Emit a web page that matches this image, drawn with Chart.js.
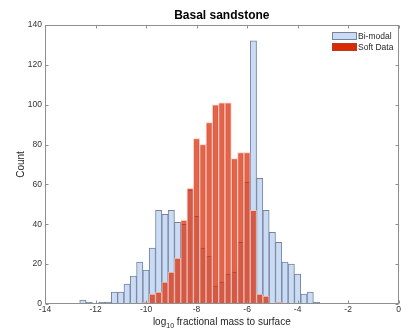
<!DOCTYPE html>
<html>
<head>
<meta charset="utf-8">
<script src="https://cdn.jsdelivr.net/npm/chart.js@4"></script>
<style>
    html, body { margin: 0; padding: 0; background: #fff; }
    #wrap { width: 402px; height: 332px; }
</style>
</head>
<body>
<div id="wrap"><canvas id="hist"></canvas></div>
<script>
const titleText = 'Basal sandstone';
const yLabel = 'Count';
const xLabelParts = ['log', '10', ' fractional mass to surface'];

const xTicks = [-14, -12, -10, -8, -6, -4, -2, 0];
const yTicks = [0, 20, 40, 60, 80, 100, 120, 140];

// bin centres (width 0.25) and counts
const bimodalBins = [
    -12.5, -12.25, -12, -11.75, -11.5, -11.25, -11, -10.75, -10.5, -10.25,
    -10, -9.75, -9.5, -9.25, -9, -8.75, -8.5, -8.25, -8, -7.75,
    -7.5, -7.25, -7, -6.75, -6.5, -6.25, -6, -5.75, -5.5, -5.25,
    -5, -4.75, -4.5, -4.25, -4, -3.75, -3.5, -3.25
];
const bimodalCounts = [
    2, 1, 0, 1, 1, 6, 6, 10, 14, 21,
    17, 28, 47, 45, 47, 41, 40, 57, 44, 28,
    24, 9, 11, 15, 16, 31, 61, 132, 63, 47,
    36, 31, 21, 20, 15, 5, 6, 1
];

const softBins = [
    -10, -9.75, -9.5, -9.25, -9, -8.75, -8.5, -8.25, -8, -7.75,
    -7.5, -7.25, -7, -6.75, -6.5, -6.25, -6, -5.75, -5.5, -5.25,
    -5, -4.75
];
const softCounts = [
    1, 5, 6, 11, 16, 23, 42, 58, 83, 80,
    91, 100, 101, 101, 73, 76, 76, 47, 5, 4,
    0, 1
];

const FONT = "'Liberation Sans', Arial, sans-serif";
const frameColor = '#8f8f8f';
const blueFill = '#c9dbf5';
const blueEdge = '#76839a';
const redFill = 'rgba(214, 36, 0, 0.71)';
const redEdge = 'rgba(246, 196, 184, 0.85)';
const redSwatch = '#d92a06';

// box, inward ticks, title, axis labels and legend in MATLAB style
const matlabFrame = {
    id: 'matlabFrame',
    afterDraw(chart) {
        const { ctx, chartArea: a, scales: { x, y } } = chart;
        const L = Math.round(a.left) + 0.5, R = Math.round(a.right) - 0.5;
        const T = Math.round(a.top) + 0.5, B = Math.round(a.bottom) - 0.5;
        ctx.save();
        ctx.strokeStyle = frameColor;
        ctx.lineWidth = 1;
        ctx.strokeRect(L, T, R - L, B - T);
        ctx.beginPath();
        xTicks.forEach(v => {
            const px = Math.round(x.getPixelForValue(v)) + 0.5;
            ctx.moveTo(px, B); ctx.lineTo(px, B - 3);
            ctx.moveTo(px, T); ctx.lineTo(px, T + 3);
        });
        yTicks.forEach(v => {
            const py = Math.round(y.getPixelForValue(v)) + 0.5;
            ctx.moveTo(L, py); ctx.lineTo(L + 3, py);
            ctx.moveTo(R, py); ctx.lineTo(R - 3, py);
        });
        ctx.stroke();

        const cx = (a.left + a.right) / 2;
        ctx.fillStyle = '#000';
        ctx.textAlign = 'center';
        ctx.textBaseline = 'alphabetic';
        ctx.font = 'bold 12px ' + FONT;
        ctx.fillText(titleText, cx, 18.5);

        // x label with subscript
        ctx.fillStyle = '#262626';
        ctx.font = '10px ' + FONT;
        const w0 = ctx.measureText(xLabelParts[0]).width;
        const w2 = ctx.measureText(xLabelParts[2]).width;
        ctx.font = '7px ' + FONT;
        const w1 = ctx.measureText(xLabelParts[1]).width;
        let sx = cx - (w0 + w1 + w2) / 2;
        ctx.textAlign = 'left';
        ctx.font = '10px ' + FONT;
        ctx.fillText(xLabelParts[0], sx, 325);
        ctx.font = '7px ' + FONT;
        ctx.fillText(xLabelParts[1], sx + w0, 328);
        ctx.font = '10px ' + FONT;
        ctx.fillText(xLabelParts[2], sx + w0 + w1, 325);

        // y label
        ctx.save();
        ctx.translate(21, (a.top + a.bottom) / 2);
        ctx.rotate(-Math.PI / 2);
        ctx.textAlign = 'center';
        ctx.textBaseline = 'middle';
        ctx.fillText(yLabel, 0, 0);
        ctx.restore();

        // legend
        const ds = chart.data.datasets;
        const items = [
            { label: ds[0].label, fill: blueFill, edge: blueEdge, y: 32.5 },
            { label: ds[1].label, fill: redSwatch, edge: '#b83a20', y: 43.5 }
        ];
        ctx.font = '8.5px ' + FONT;
        ctx.textBaseline = 'middle';
        ctx.textAlign = 'left';
        items.forEach(it => {
            ctx.fillStyle = it.fill;
            ctx.fillRect(332.5, it.y, 24, 7);
            ctx.strokeStyle = it.edge;
            ctx.strokeRect(332.5, it.y, 24, 7);
            ctx.fillStyle = '#262626';
            ctx.fillText(it.label, 358, it.y + 4);
        });
        ctx.restore();
    }
};

new Chart(document.getElementById('hist'), {
    type: 'bar',
    data: {
        datasets: [
            {
                label: 'Bi-modal',
                data: bimodalBins.map((b, i) => ({ x: b, y: bimodalCounts[i] })),
                backgroundColor: blueFill,
                borderColor: blueEdge,
                borderWidth: 1,
                grouped: false,
                barPercentage: 1,
                categoryPercentage: 1,
                order: 1
            },
            {
                label: 'Soft Data',
                data: softBins.map((b, i) => ({ x: b, y: softCounts[i] })),
                backgroundColor: redFill,
                borderColor: redEdge,
                borderWidth: 1,
                grouped: false,
                barPercentage: 1,
                categoryPercentage: 1,
                order: 0
            }
        ]
    },
    options: {
        responsive: true,
        maintainAspectRatio: false,
        animation: false,
        layout: { padding: { left: 0, right: 3, top: 25, bottom: 0 } },
        plugins: {
            legend: { display: false },
            tooltip: { enabled: false }
        },
        scales: {
            x: {
                type: 'linear',
                min: -14,
                max: 0,
                offset: false,
                grid: { display: false, drawTicks: false, offset: false },
                border: { display: false },
                afterBuildTicks: s => { s.ticks = xTicks.map(v => ({ value: v })); },
                afterFit: s => { s.height = 28; },
                ticks: {
                    color: '#333',
                    padding: 1,
                    maxRotation: 0,
                    autoSkip: false,
                    font: { family: FONT, size: 8.5 },
                    callback: v => String(v)
                }
            },
            y: {
                min: 0,
                max: 140,
                grid: { display: false, drawTicks: false },
                border: { display: false },
                afterBuildTicks: s => { s.ticks = yTicks.map(v => ({ value: v })); },
                afterFit: s => { s.width = 45; },
                ticks: {
                    color: '#333',
                    padding: 3,
                    font: { family: FONT, size: 8.5 },
                    callback: v => String(v)
                }
            }
        }
    },
    plugins: [matlabFrame]
});
</script>
</body>
</html>
